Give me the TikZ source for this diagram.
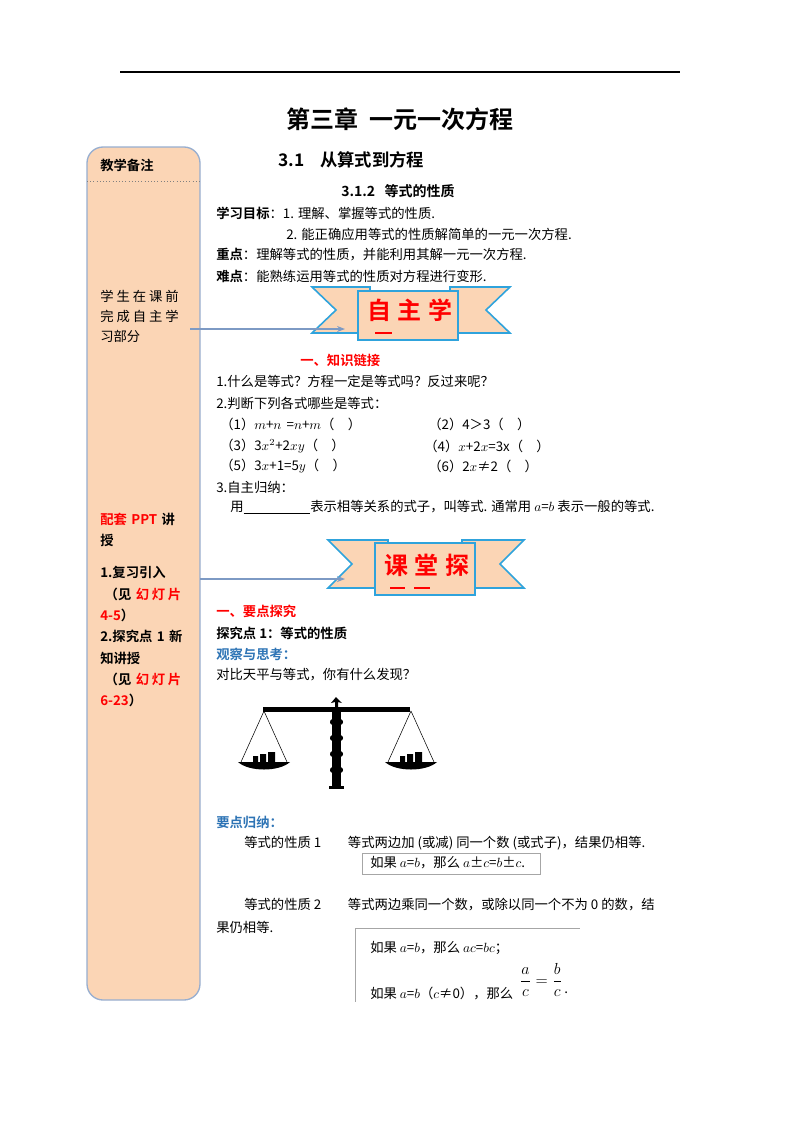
\documentclass[tikz,border=0pt]{standalone}
\usepackage{fontspec}
\setmainfont{Liberation Serif}
\newfontfamily\cjk{Noto Sans CJK SC}
\newfontfamily\cjkb{Noto Sans CJK SC Bold}
\usetikzlibrary{arrows.meta}
\definecolor{peach}{HTML}{FBD5B5}
\definecolor{bblue}{HTML}{2FA3DC}
\definecolor{arr}{HTML}{7D9AC4}
\definecolor{tblue}{HTML}{2E74B5}
\tikzset{
 t/.style={anchor=west,inner sep=0pt,font=\fontsize{10}{12}\selectfont\cjk},
 tb/.style={t,font=\fontsize{10}{12}\selectfont\cjkb},
 lp/.style={t,font=\fontsize{10}{15}\selectfont\cjk,align=left},
 banner/.style={fill=peach,draw=bblue,line width=1.2pt,line join=miter},
 ban/.style={inner sep=0pt,font=\fontsize{18}{20}\selectfont\cjkb,text=red},
 pointer/.style={arr,line width=0.8pt,-{Stealth[length=6pt]}},
 frm/.style={draw=gray!70,line width=0.5pt}
}
\begin{document}
\begin{tikzpicture}[x=0.75pt,y=-0.75pt]
\useasboundingbox (0,0) rectangle (800,1132);
\draw[line width=0.8pt] (120,72) -- (680,72);
\node[inner sep=0pt,font=\fontsize{18}{20}\selectfont\cjkb] (title) at (400,119) {第三章\ \ 一元一次方程};
% left panel
\draw[fill=peach,draw=arr!80,line width=1pt,rounded corners=12pt] (87,147) rectangle (200,1000);
\draw[dotted,gray] (87,181) -- (200,181);
\node[tb] (jb) at (100,165) {教学备注};
\node[lp,text width=95pt] (xs) at (100,316) {学\hspace{2.2pt}生\hspace{2.2pt}在\hspace{2.2pt}课\hspace{2.2pt}前\\完\hspace{2.2pt}成\hspace{2.2pt}自\hspace{2.2pt}主\hspace{2.2pt}学\\习部分};
\node[t,align=left,font=\fontsize{10}{16}\selectfont\cjkb,text width=95pt] (pp) at (100,610) {\textcolor{red}{配套 PPT} 讲\\授\\[8pt]1.复习引入\\\ （见 \textcolor{red}{幻\hspace{2pt}灯\hspace{2pt}片}\\\textcolor{red}{4-5}）\\2.探究点 1 新\\知讲授\\\ （见 \textcolor{red}{幻\hspace{2pt}灯\hspace{2pt}片}\\\textcolor{red}{6-23}）};
% headings
\node[tb,font=\fontsize{13}{15}\selectfont\cjkb] (s31) at (278,160) {3.1\ \ \ \ 从算式到方程};
\node[tb,font=\fontsize{10.5}{12}\selectfont\cjkb] (s312) at (341,191) {3.1.2\ \ \ 等式的性质};
\node[t] (l1) at (216,213) {\cjkb 学习目标\cjk：1. 理解、掌握等式的性质.};
\node[t] (l2) at (286,234) {2. 能正确应用等式的性质解简单的一元一次方程.};
\node[t] (l3) at (216,255) {\cjkb 重点\cjk：理解等式的性质，并能利用其解一元一次方程.};
\node[t] (l4) at (216,276) {\cjkb 难点\cjk：能熟练运用等式的性质对方程进行变形.};
% banner 1
\draw[banner] (312,287) -- (370,287) -- (370,333) -- (312,333) -- (336,310) -- cycle;
\draw[banner] (510,287) -- (450,287) -- (450,333) -- (510,333) -- (486,310) -- cycle;
\draw[banner] (358,291) rectangle (458,340);
\node[ban] (b1) at (410,310) {自\hspace{5pt}主\hspace{5pt}学};
\draw[red,line width=1.5pt] (375,333) -- (392,333);
\draw[pointer] (190,329) -- (345,329);
\node[t,text=red,font=\fontsize{10}{12}\selectfont\cjkb] (zs) at (300,360) {一、知识链接};
\node[t] (q1) at (216,381) {1.什么是等式？方程一定是等式吗？反过来呢？};
\node[t] (q2) at (216,403) {2.判断下列各式哪些是等式：};
\node[t] (e1) at (220,424) {（1）$m$+$n$ \,=$n$+$m$（\quad）};
\node[t] (e2) at (428,424) {（2）4＞3（\quad）};
\node[t] (e3) at (220,446) {（3）3$x^2$+2$xy$（\quad）};
\node[t] (e4) at (424,446) {（4）$x$+2$x$=3x（\quad）};
\node[t] (e5) at (220,466) {（5）3$x$+1=5$y$（\quad）};
\node[t] (e6) at (428,466) {（6）2$x$≠2（\quad）};
\node[t] (q3) at (216,487) {3.自主归纳：};
\node[t] (q4) at (230,507) {用\underline{\hspace{50pt}}表示相等关系的式子，叫等式. 通常用 $a$=$b$ 表示一般的等式.};
% banner 2
\draw[banner] (328,540) -- (388,540) -- (388,588) -- (328,588) -- (352,564) -- cycle;
\draw[banner] (524,540) -- (462,540) -- (462,588) -- (524,588) -- (500,564) -- cycle;
\draw[banner] (375,543) rectangle (475,595);
\node[ban] (b2) at (427,565) {课\hspace{5pt}堂\hspace{5pt}探};
\draw[red,line width=1.5pt] (390,588) -- (405,588) (414,588) -- (430,588);
\draw[pointer] (200,579) -- (345,579);
\node[t,text=red,font=\fontsize{10}{12}\selectfont\cjkb] (yd) at (216,611) {一、要点探究};
\node[tb] (tj) at (216,633) {探究点 1：等式的性质};
\node[t,text=tblue,font=\fontsize{10}{12}\selectfont\cjkb] (gc) at (216,654) {观察与思考：};
\node[t] (db) at (216,675) {对比天平与等式，你有什么发现？};
% balance
\fill (263,707) rectangle (410,712);
\fill (332,712) rectangle (341,786);
\fill (329,786) rectangle (344,789);
\foreach \yy in {722,738,754,770}{\fill (336.5,\yy) ellipse (6.5 and 4);}
\fill (336,697) -- (331,703) -- (335,702) -- (335,707) -- (338,707) -- (338,702) -- (342,703) -- cycle;
\foreach \c in {264,411}{
 \draw[line width=0.4pt] (\c,711) -- (\c-23,762) (\c,711) -- (\c+23,762);
 \fill (\c-26,762) .. controls (\c-15,772) and (\c+15,772) .. (\c+26,762) -- cycle;
 \fill (\c-11,756) rectangle (\c-6,762) (\c-4,754) rectangle (\c+2,762) (\c+4,752) rectangle (\c+11,762);
}
\node[t,text=tblue,font=\fontsize{10}{12}\selectfont\cjkb] (yg) at (216,822) {要点归纳：};
\node[t] (p1) at (244,843) {等式的性质 1\qquad 等式两边加\ (或减)\ 同一个数\ (或式子)，结果仍相等.};
\draw[frm] (362,853) rectangle (540,874);
\node[t] (f1) at (370,863) {如果 $a$=$b$，那么 $a$±$c$=$b$±$c$.};
\node[t] (p2) at (244,905) {等式的性质 2\qquad 等式两边乘同一个数，或除以同一个不为 0 的数，结};
\node[t] (p2b) at (216,927) {果仍相等.};
\draw[frm] (355,928) -- (580,928) (355,928) -- (355,1002);
\node[t] (f2) at (370,948) {如果 $a$=$b$，那么 $ac$=$bc$；};
\node[t] (f3) at (370,993) {如果 $a$=$b$（$c$≠0），那么};
\node[inner sep=0pt,font=\fontsize{13}{15}\selectfont] (fr) at (541,980) {$\displaystyle\frac{a}{c}=\frac{b}{c}$};
\node[t] (dot) at (564,993) {.};
\end{tikzpicture}
\end{document}
